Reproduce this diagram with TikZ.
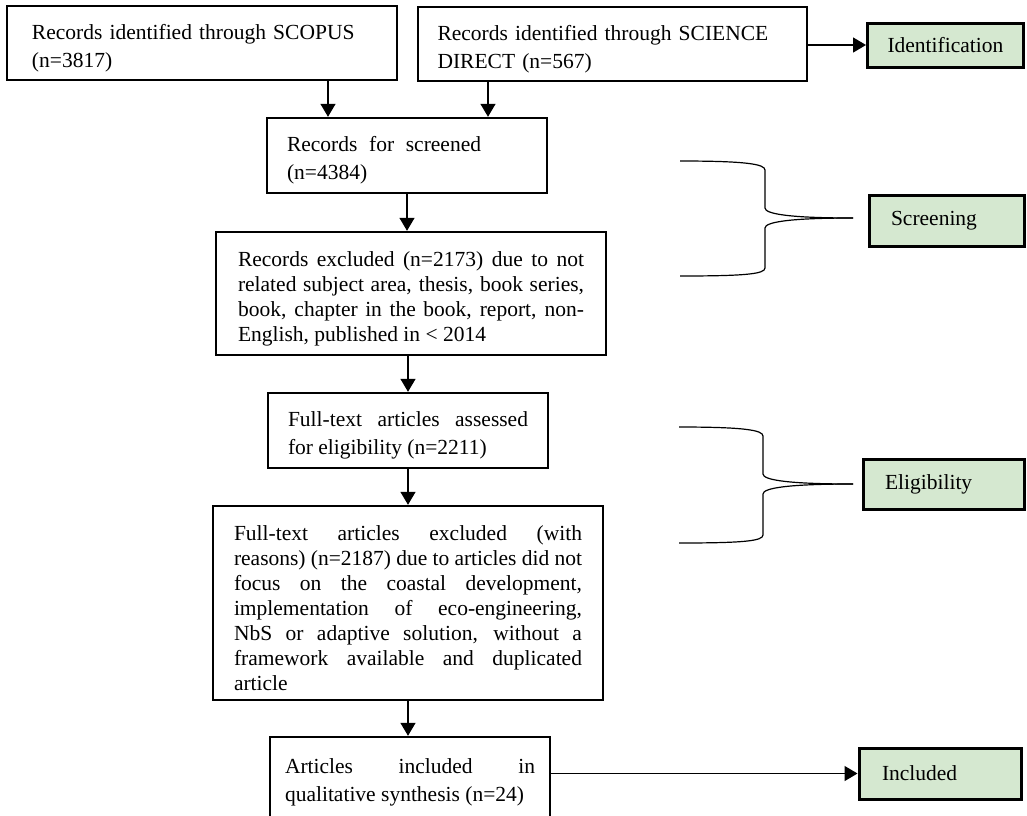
\documentclass[tikz,border=0pt]{standalone}
\usepackage{fontspec}
\setmainfont{Liberation Serif}
\usetikzlibrary{arrows.meta}
\definecolor{stagegreen}{RGB}{213,232,208}
\hyphenpenalty=10000

\begin{document}
\begin{tikzpicture}[x=0.5pt,y=-0.5pt,>={Triangle[length=6.5pt,width=7.5pt]},
  font=\fontsize{10.75}{12.5}\selectfont,
  flowbox/.style={draw,line width=1.2pt,inner ysep=0pt,align=justify,
    execute at begin node={\rule{0pt}{12.7pt}}},
  twoline/.style={font=\fontsize{10.75}{14}\selectfont},
  stagebox/.style={draw,line width=1.5pt,fill=stagegreen,inner ysep=0pt,align=left},
  arr/.style={->,line width=0.7pt},
  brace/.style={line width=0.6pt}]
\useasboundingbox (0,0) rectangle (1027,815);

% identification
\node[flowbox,twoline,align=left,text width=170pt,inner xsep=12.5pt,minimum height=37pt] (scopus) at (202,43)
  {Records identified through SCOPUS\\(n=3817)};
\node[flowbox,twoline,align=left,text width=175pt,inner xsep=9.75pt,minimum height=37pt] (sd) at (612.5,44)
  {Records identified through SCIENCE\\DIRECT (n=567)};
\node[stagebox,text width=58pt,inner xsep=10pt,minimum height=22pt] (ident) at (945.5,45) {Identification};

% screening
\node[flowbox,twoline,align=left,text width=120pt,inner xsep=10pt,minimum height=37.5pt] (screened) at (407,155.5)
  {Records\hspace{2.25pt} for\hspace{2.25pt} screened\\(n=4384)};
\node[flowbox,text width=173pt,inner xsep=11pt,minimum height=61.5pt] (excluded) at (411,293.5)
  {Records excluded (n=2173) due to not\linebreak related subject area, thesis, book series,\linebreak
   book, chapter in the book, report, non-\linebreak English, published in < 2014};
\node[stagebox,text width=55.5pt,inner xsep=11pt,minimum height=25.5pt] (screening) at (946.5,220.5) {Screening};

% eligibility
\node[flowbox,twoline,text width=120pt,inner xsep=10pt,minimum height=37.5pt] (assessed) at (408,430.5)
  {Full-text articles assessed\linebreak for eligibility (n=2211)};
\node[flowbox,text width=174pt,inner xsep=10.5pt,minimum height=97pt] (excluded2) at (408,603)
  {Full-text articles excluded (with\linebreak reasons) (n=2187) due to articles did not\linebreak
   focus on the coastal development,\linebreak implementation of eco-engineering,\linebreak
   NbS or adaptive solution, without a\linebreak framework available and duplicated\linebreak article};
\node[stagebox,text width=58.5pt,inner xsep=11pt,minimum height=25pt] (eligibility) at (943.5,484) {Eligibility};

% included
\node[flowbox,twoline,text width=125pt,inner xsep=7.5pt,minimum height=40pt] (articles) at (410,777)
  {Articles included in\linebreak qualitative synthesis (n=24)};
\node[stagebox,text width=58pt,inner xsep=11.5pt,minimum height=25.5pt] (included) at (940,773.5) {Included};

\draw[arr] ([xshift=63pt]scopus.south) -- ([xshift=63pt]scopus.south |- screened.north);
\draw[arr] ([xshift=-62.25pt]sd.south) -- ([xshift=-62.25pt]sd.south |- screened.north);
\draw[arr] (sd.east |- ident.west) -- (ident.west);
\draw[arr] (screened.south) -- (screened.south |- excluded.north);
\draw[arr] (assessed.north |- excluded.south) -- (assessed.north);
\draw[arr] (assessed.south) -- (assessed.south |- excluded2.north);
\draw[arr] (excluded2.south) -- (excluded2.south |- articles.north);
\draw[arr] (articles.east |- included.west) -- (included.west);

% braces
\draw[brace] (680,161) .. controls (745,161) and (765,164) .. (765,170) -- (765,208)
  .. controls (765,214) and (790,218) .. (853,218);
\draw[brace] (853,218) .. controls (790,218) and (765,222) .. (765,228) -- (765,268)
  .. controls (765,274) and (745,276) .. (680,276);
\draw[brace] (679,427) .. controls (743,427) and (763,430) .. (763,436) -- (763,474)
  .. controls (763,480) and (788,484) .. (853,484);
\draw[brace] (853,484) .. controls (788,484) and (763,488) .. (763,494) -- (763,535)
  .. controls (763,541) and (743,543) .. (679,543);
\end{tikzpicture}
\end{document}
